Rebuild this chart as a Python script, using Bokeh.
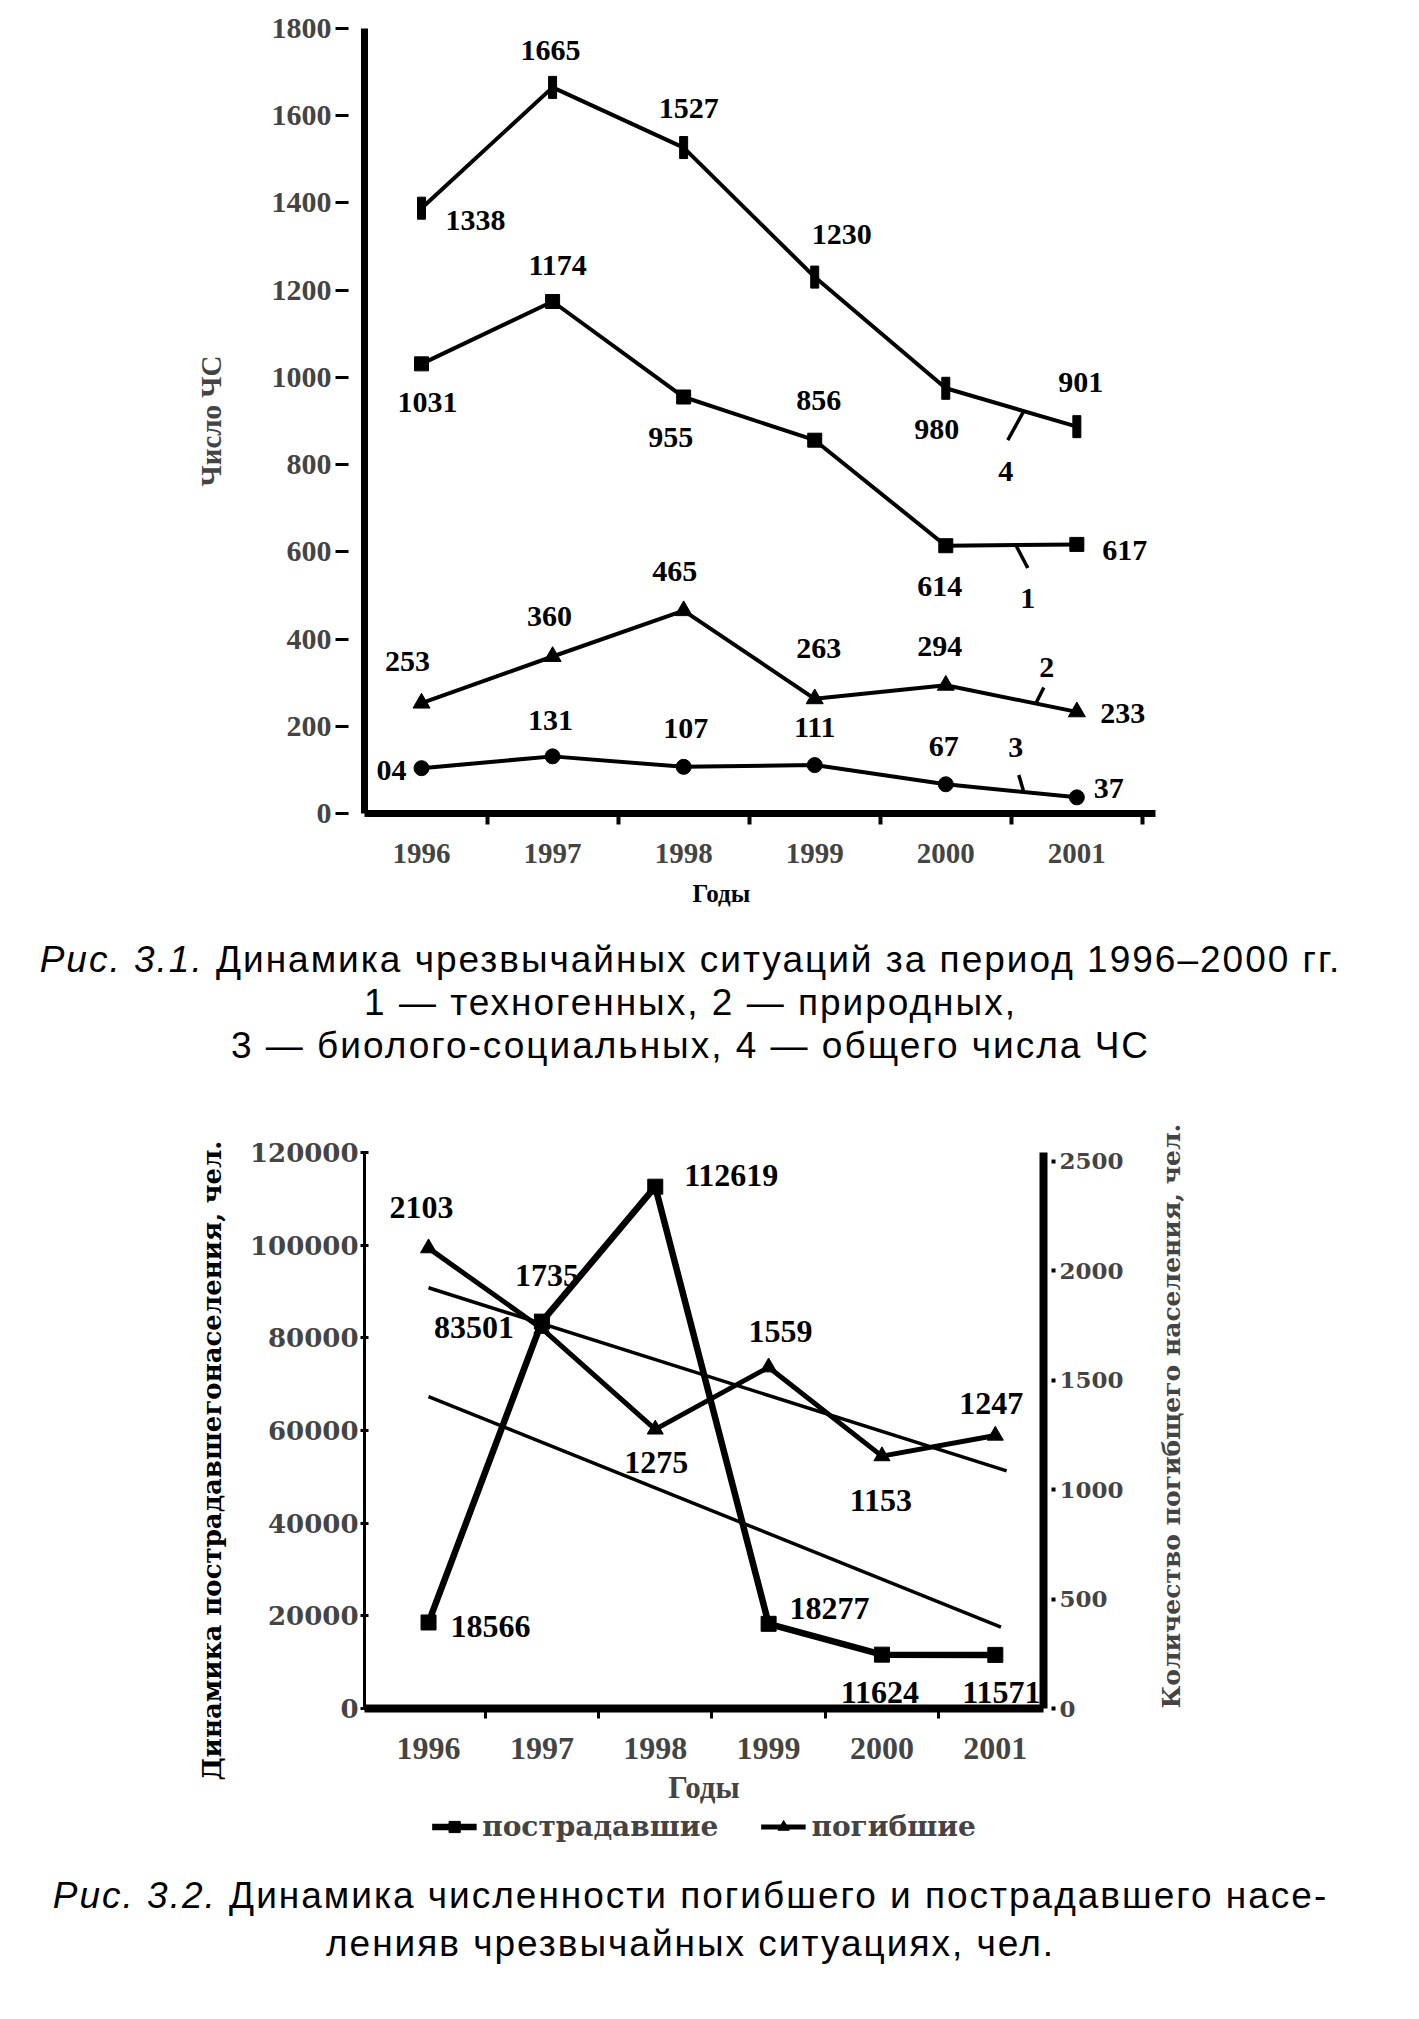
import math
import numpy as np
from bokeh.plotting import figure
from bokeh.models import (ColumnDataSource, LabelSet, Range1d, LinearAxis, Title,
                          FixedTicker, Legend, LegendItem, Div, BasicTickFormatter)
from bokeh.layouts import column
from bokeh.core.properties import value
from bokeh.embed import file_html
from bokeh.resources import INLINE

# ---------------- data ----------------
years = [1996, 1997, 1998, 1999, 2000, 2001]

# Fig. 3.1  (number of emergencies)
total_cs = [1388, 1665, 1527, 1230, 975, 887]          # 4 - total (as drawn)
total_cs_labels = ["1338", "1665", "1527", "1230", "980", "901"]
techno = [1031, 1174, 955, 856, 614, 617]              # 1 - technogenic
nature = [253, 360, 465, 263, 294, 233]                # 2 - natural
biosoc = [104, 131, 107, 111, 67, 37]                  # 3 - bio-social
biosoc_labels = ["04", "131", "107", "111", "67", "37"]
y1_ticks = [0, 200, 400, 600, 800, 1000, 1200, 1400, 1600, 1800]

# Fig. 3.2  (victims / deaths)
victims = [18566, 83501, 112619, 18277, 11624, 11571]
deaths = [2103, 1735, 1275, 1559, 1153, 1247]
y2_left_ticks = [0, 20000, 40000, 60000, 80000, 100000, 120000]
y2_right_ticks = [0, 500, 1000, 1500, 2000, 2500]

# ---------------- styling / layout constants ----------------
SERIF = "Liberation Serif"
WIDE = "DejaVu Serif"
W = 1403
BL, BR = 364, 248          # shared inner borders (column aligns frames)

# label offsets (px, dx right, dy down)
off_total = [(54, 12), (-2, -37), (5, -39), (27, -43), (-9, 41), (4, -44)]
off_techno = [(6, 39), (5, -36), (-13, 40), (4, -40), (-6, 41), (48, 6)]
off_nature = [(-14, -42), (-3, -40), (-9, -39), (4, -50), (-6, -39), (46, 2)]
off_biosoc = [(-30, 2), (-2, -36), (2, -38), (0, -38), (-2, -38), (32, -9)]
off_victims = [(62, 4), (-68, 6), (76, -11), (61, -15), (-2, 38), (6, 38)]
off_deaths = [(-7, -41), (5, -53), (1, 33), (12, -36), (-1, 44), (-4, -32)]


def label_set(xs, ys, texts, offs, size, y_range_name="default"):
    src = ColumnDataSource(dict(x=xs, y=ys, t=texts,
                                dx=[o[0] for o in offs],
                                dy=[-o[1] for o in offs]))
    return LabelSet(x="x", y="y", text="t", x_offset="dx", y_offset="dy",
                    source=src, text_align="center", text_baseline="middle",
                    text_font=value(SERIF), text_font_style="bold",
                    text_font_size=size, text_color="black",
                    y_range_name=y_range_name)


# ================= Figure 3.1 =================
H1 = 938
X1 = (1995.565, 2001.6)
Y1 = (0, 1800)
T1, B1 = 28, 125
p1 = figure(width=W, height=H1, x_range=Range1d(*X1), y_range=Range1d(*Y1),
            output_backend="svg", toolbar_location=None,
            min_border_left=BL, min_border_right=BR,
            min_border_top=T1, min_border_bottom=B1)
p1.grid.visible = False
p1.outline_line_color = None
p1.background_fill_color = "white"

ya = p1.yaxis[0]
ya.ticker = FixedTicker(ticks=y1_ticks)
ya.axis_line_width = 7
ya.major_tick_in = -16
ya.major_tick_out = 29
ya.major_tick_line_width = 3
ya.minor_tick_line_color = None
ya.major_label_standoff = 4
ya.major_label_text_font = SERIF
ya.major_label_text_font_style = "bold"
ya.major_label_text_font_size = "30px"
ya.axis_label = "Число ЧС"
ya.axis_label_text_font = SERIF
ya.axis_label_text_font_style = "bold"
ya.axis_label_text_font_size = "29px"
ya.axis_label_standoff = 42

xa = p1.xaxis[0]
xa.ticker = FixedTicker(ticks=years,
                        minor_ticks=[y + 0.5 for y in years if y + 0.5 < X1[1]])
xa.axis_line_width = 7
xa.major_tick_in = 0
xa.major_tick_out = 0
xa.minor_tick_in = 0
xa.minor_tick_out = 11
xa.minor_tick_line_width = 4
xa.major_label_standoff = 19
xa.major_label_text_font = SERIF
xa.major_label_text_font_style = "bold"
xa.major_label_text_font_size = "29px"

# x-axis title, set a little left of the frame centre as in the original
p1.add_layout(Title(text="Годы", align="left", offset=328, standoff=25,
                    text_font=SERIF, text_font_style="bold",
                    text_font_size="25px", text_color="black"), "below")

LW1 = 4
p1.line(years, total_cs, line_width=LW1, line_color="black")
p1.rect(years, total_cs, width=8, height=22, width_units="screen",
        height_units="screen", fill_color="black", line_color="black")
p1.line(years, techno, line_width=LW1, line_color="black")
p1.scatter(years, techno, marker="square", size=14, color="black")
p1.line(years, nature, line_width=LW1, line_color="black")
p1.scatter(years, nature, marker="triangle", size=17, color="black")
p1.line(years, biosoc, line_width=LW1, line_color="black")
p1.scatter(years, biosoc, marker="circle", size=15, color="black")

FS1 = "30px"
p1.add_layout(label_set(years, total_cs, total_cs_labels, off_total, FS1))
p1.add_layout(label_set(years, techno, [str(v) for v in techno], off_techno, FS1))
p1.add_layout(label_set(years, nature, [str(v) for v in nature], off_nature, FS1))
p1.add_layout(label_set(years, biosoc, biosoc_labels, off_biosoc, FS1))

# series number markers ("1".."4") with short leader strokes
pxx = (W - BL - BR) / (X1[1] - X1[0])
pxy = (H1 - T1 - B1) / (Y1[1] - Y1[0])
series_marks = [
    ("4", total_cs, 0.595, (-16, 29), (-18, 60)),
    ("1", techno, 0.534, (12, 23), (12, 53)),
    ("2", nature, 0.687, (8, -16), (11, -36)),
    ("3", biosoc, 0.595, (-5, -17), (-8, -45)),
]
sx0, sy0, sx1, sy1, nx, ny, nt, noff = [], [], [], [], [], [], [], []
for name, ser, t, lead, lab in series_marks:
    ax_ = years[4] + t
    ay_ = ser[4] + t * (ser[5] - ser[4])
    sx0.append(ax_)
    sy0.append(ay_)
    sx1.append(ax_ + lead[0] / pxx)
    sy1.append(ay_ - lead[1] / pxy)
    nx.append(ax_)
    ny.append(ay_)
    nt.append(name)
    noff.append(lab)
p1.segment(sx0, sy0, sx1, sy1, line_width=3.5, line_color="black")
p1.add_layout(label_set(nx, ny, nt, noff, FS1))

cap_style = ("font-family:'Liberation Sans',Arial,sans-serif;font-size:37px;"
             "letter-spacing:2px;white-space:nowrap;"
             "color:#000;text-align:center;width:%dpx;box-sizing:border-box;"
             "padding-right:22px;" % W)
div1 = Div(text=("<div style=\"%sline-height:43px;padding-top:0px;\">"
                 "<i>Рис. 3.1.</i> Динамика чрезвычайных ситуаций за период 1996–2000 гг.<br>"
                 "1 — техногенных, 2 — природных,<br>"
                 "3 — биолого-социальных, 4 — общего числа ЧС</div>") % cap_style,
           width=W, height=142, margin=(0, 0, 0, 0))

# ================= Figure 3.2 =================
X2 = (1995.435, 2001.425)
W2 = BL + 679 + BR
T2, FR2, B2 = 72, 556, 100
H2 = T2 + FR2 + B2
p2 = figure(width=W2, height=H2, x_range=Range1d(*X2), y_range=Range1d(0, 120000),
            output_backend="svg", toolbar_location=None,
            min_border_left=BL, min_border_right=BR,
            min_border_top=T2, min_border_bottom=B2)
p2.extra_y_ranges = {"deaths": Range1d(0, 2540)}
p2.grid.visible = False
p2.outline_line_color = None

yl = p2.yaxis[0]
yl.ticker = FixedTicker(ticks=y2_left_ticks)
yl.formatter = BasicTickFormatter(use_scientific=False)
yl.axis_line_width = 3
yl.major_tick_in = 4
yl.major_tick_out = 4
yl.major_tick_line_width = 3
yl.minor_tick_line_color = None
yl.major_label_standoff = 2
yl.major_label_text_font = WIDE
yl.major_label_text_font_style = "bold"
yl.major_label_text_font_size = "26px"

# left title, running a little below the frame as in the original
p2.add_layout(Title(text="Динамика пострадавшегонаселения, чел.", align="left",
                    offset=-72, standoff=39, text_font=WIDE,
                    text_font_style="bold", text_font_size="26px",
                    text_color="black"), "left")

yr = LinearAxis(y_range_name="deaths", ticker=FixedTicker(ticks=y2_right_ticks))
yr.axis_line_width = 8
yr.major_tick_in = -8
yr.major_tick_out = 12
yr.major_tick_line_width = 4
yr.minor_tick_line_color = None
yr.major_label_standoff = 4
yr.major_label_text_font = WIDE
yr.major_label_text_font_style = "bold"
yr.major_label_text_font_size = "23px"
yr.axis_label = "Количество погибщего населения, чел."
yr.axis_label_text_font = WIDE
yr.axis_label_text_font_style = "bold"
yr.axis_label_text_font_size = "25px"
yr.axis_label_standoff = 45
try:
    yr.axis_label_align = "start"
    yr.axis_label_orientation = math.pi / 2
except Exception:
    yr.axis_label_orientation = "parallel"
p2.add_layout(yr, "right")

xb = p2.xaxis[0]
xb.ticker = FixedTicker(ticks=years,
                        minor_ticks=[y + 0.5 for y in years if y + 0.5 < X2[1]])
xb.axis_line_width = 8
xb.major_tick_in = 0
xb.major_tick_out = 0
xb.minor_tick_in = 0
xb.minor_tick_out = 10
xb.minor_tick_line_width = 3
xb.major_label_standoff = 19
xb.major_label_text_font = SERIF
xb.major_label_text_font_style = "bold"
xb.major_label_text_font_size = "32px"
xb.axis_label = "Годы"
xb.axis_label_text_font = SERIF
xb.axis_label_text_font_style = "bold"
xb.axis_label_text_font_size = "31px"
xb.axis_label_standoff = 8

# linear trends computed from the data
idx = np.arange(len(years))
kv, bv = np.polyfit(idx, victims, 1)
kd, bd = np.polyfit(idx, deaths, 1)
tx_v = [0.0, 5.05]
tx_d = [0.0, 5.1]
p2.line([years[0] + t for t in tx_v], [bv + kv * t for t in tx_v],
        line_width=3.5, line_color="black")
p2.line([years[0] + t for t in tx_d], [bd + kd * t for t in tx_d],
        line_width=3.5, line_color="black", y_range_name="deaths")

p2.line(years, victims, line_width=6.5, line_color="black")
p2.scatter(years, victims, marker="square", size=15, color="black")
p2.line(years, deaths, line_width=5, line_color="black", y_range_name="deaths")
p2.scatter(years, deaths, marker="triangle", size=16, color="black",
           y_range_name="deaths")

FS2 = "32px"
p2.add_layout(label_set(years, victims, [str(v) for v in victims], off_victims, FS2))
p2.add_layout(label_set(years, deaths, [str(v) for v in deaths], off_deaths, FS2,
                        y_range_name="deaths"))

# legend strip (own small figure so that it is not clipped by the plot frame);
# its key renderers hold the same series but lie outside this strip's ranges
p3 = figure(width=W2, height=36, x_range=Range1d(0, 1), y_range=Range1d(0, 1),
            output_backend="svg", toolbar_location=None,
            min_border_left=BL, min_border_right=BR,
            min_border_top=0, min_border_bottom=0)
p3.axis.visible = False
p3.grid.visible = False
p3.outline_line_color = None
kl = p3.line(years, victims, line_width=6.5, line_color="black")
ks = p3.scatter(years, victims, marker="square", size=15, color="black")
kl2 = p3.line(years, deaths, line_width=5, line_color="black")
ks2 = p3.scatter(years, deaths, marker="triangle", size=16, color="black")
legend = Legend(items=[LegendItem(label="пострадавшие", renderers=[kl, ks]),
                       LegendItem(label="погибшие", renderers=[kl2, ks2])],
                orientation="horizontal", location="center",
                border_line_color=None, background_fill_alpha=0,
                label_text_font=WIDE, label_text_font_style="bold",
                label_text_font_size="28px", glyph_width=45, glyph_height=28,
                label_height=28, spacing=42, padding=0, margin=0, label_standoff=6)
p3.add_layout(legend, "center")

div2 = Div(text=("<div style=\"%sline-height:48px;padding-top:28px;\">"
                 "<i>Рис. 3.2.</i> Динамика численности погибшего и пострадавшего насе-<br>"
                 "ленияв чрезвычайных ситуациях, чел.</div>") % cap_style,
           width=W, height=140, margin=(0, 0, 0, 0))

layout = column(p1, div1, p2, p3, div2, spacing=0)
open("out.html", "w").write(file_html(layout, INLINE))
